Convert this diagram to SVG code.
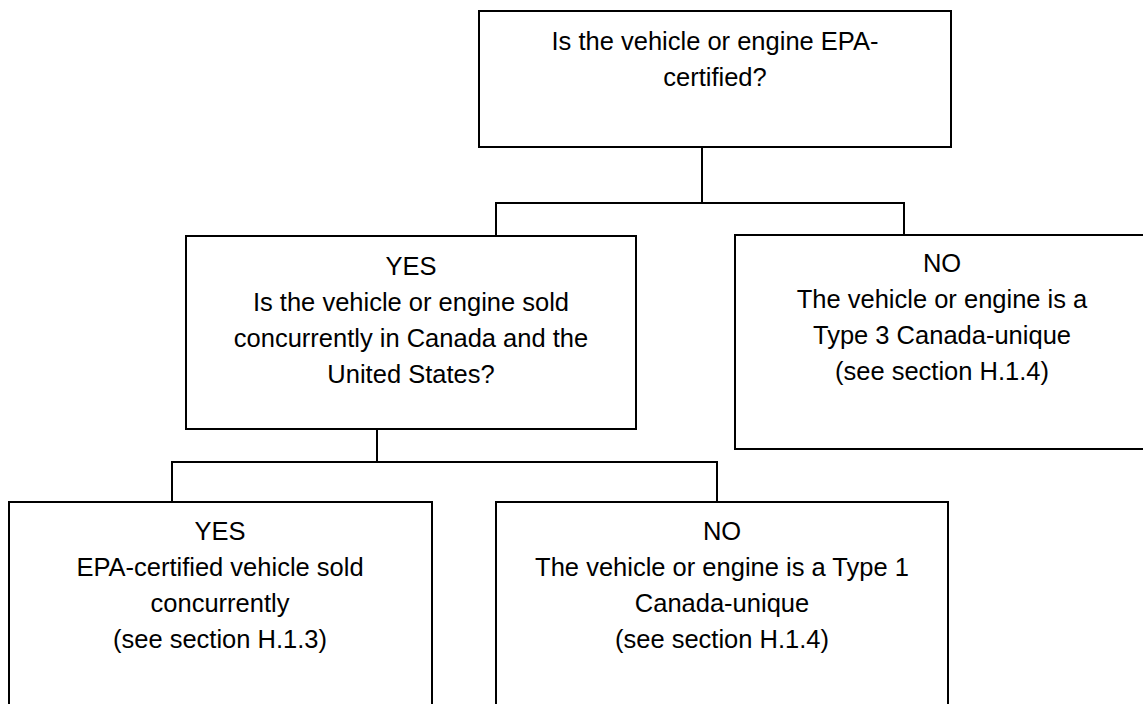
<svg xmlns="http://www.w3.org/2000/svg" width="1143" height="704" viewBox="0 0 1143 704">
<style>
.box{fill:#fff;stroke:#000;stroke-width:2}
.con{fill:none;stroke:#000;stroke-width:2}
text{font-family:"Liberation Sans",Arial,sans-serif;font-size:25.5px;fill:#000;text-anchor:middle}
</style>
<rect width="1143" height="704" fill="#fff"/>
<g id="connectors">
<polyline class="con" points="702,147 702,203"/>
<polyline class="con" points="496,236 496,203 904,203 904,235"/>
<polyline class="con" points="377,429 377,462"/>
<polyline class="con" points="172,502 172,462 717,462 717,502"/>
</g>
<g id="q1">
<rect class="box" x="479" y="11" width="472" height="136"/>
<text x="715" y="50">Is the vehicle or engine EPA-</text>
<text x="715" y="86">certified?</text>
</g>
<g id="q2">
<rect class="box" x="186" y="236" width="450" height="193"/>
<text x="411" y="275">YES</text>
<text x="411" y="311">Is the vehicle or engine sold</text>
<text x="411" y="347">concurrently in Canada and the</text>
<text x="411" y="383">United States?</text>
</g>
<g id="type3">
<rect class="box" x="735" y="235" width="420" height="214"/>
<text x="942" y="272">NO</text>
<text x="942" y="308">The vehicle or engine is a</text>
<text x="942" y="344">Type 3 Canada-unique</text>
<text x="942" y="380">(see section H.1.4)</text>
</g>
<g id="concurrent">
<rect class="box" x="9" y="502" width="423" height="220"/>
<text x="220" y="540">YES</text>
<text x="220" y="576">EPA-certified vehicle sold</text>
<text x="220" y="612">concurrently</text>
<text x="220" y="648">(see section H.1.3)</text>
</g>
<g id="type1">
<rect class="box" x="496" y="502" width="452" height="220"/>
<text x="722" y="540">NO</text>
<text x="722" y="576">The vehicle or engine is a Type 1</text>
<text x="722" y="612">Canada-unique</text>
<text x="722" y="648">(see section H.1.4)</text>
</g>
</svg>
